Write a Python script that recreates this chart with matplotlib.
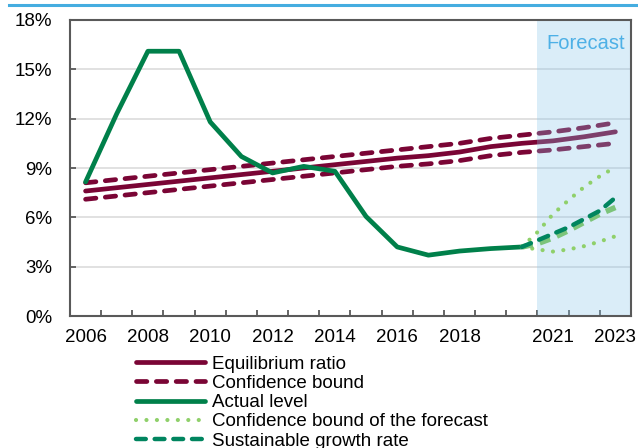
import numpy as np
import matplotlib.pyplot as plt
from matplotlib.lines import Line2D

plt.rcParams['font.family'] = ['Liberation Sans', 'DejaVu Sans']

# yearly categories 2006-2023
years = list(range(2006, 2024))
year_labels = ['2006', '', '2008', '', '2010', '', '2012', '', '2014', '', '2016', '',
               '2018', '', '', '2021', '', '2023']

eq_ratio = [7.6, 7.8, 8.0, 8.2, 8.4, 8.6, 8.8, 9.0, 9.2, 9.4, 9.6, 9.75, 9.97,
            10.3, 10.5, 10.65, 10.9, 11.2]
conf_upper = [8.1, 8.3, 8.5, 8.7, 8.9, 9.1, 9.3, 9.5, 9.7, 9.9, 10.1, 10.3, 10.5,
              10.8, 11.0, 11.2, 11.45, 11.75]
conf_lower = [7.1, 7.3, 7.5, 7.7, 7.9, 8.1, 8.3, 8.5, 8.7, 8.9, 9.1, 9.25, 9.45,
              9.75, 9.95, 10.1, 10.3, 10.5]

# actual level 2006-2020
actual_years = list(range(2006, 2021))
actual = [8.15, 12.3, 16.1, 16.1, 11.8, 9.7, 8.7, 9.1, 8.8, 6.05, 4.2, 3.7, 3.95,
          4.1, 4.2]

# forecast (half-year steps)
fc_period = [2020.0, 2020.5, 2021.0, 2021.5, 2022.0, 2022.5, 2023.0]
fc_central = [4.2, 4.4, 4.75, 5.2, 5.7, 6.2, 6.6]
fc_sustain = [4.2, 4.6, 5.0, 5.4, 5.9, 6.4, 7.2]
fc_upper = [4.2, 5.1, 6.2, 7.05, 7.85, 8.5, 9.05]
fc_lower = [4.2, 4.05, 3.92, 4.05, 4.25, 4.53, 4.85]

maroon = '#7a0535'
green = '#00804a'
dgreen = '#00855f'
lgreen = '#8fd06a'
axcol = '#595959'

def pos(y):
    return np.asarray(y, dtype=float) - years[0]

fig = plt.figure(figsize=(6.38, 4.48), dpi=100)
ax = fig.add_axes([0.1097, 0.2946, 0.8793, 0.6608])

ax.plot(pos(years), eq_ratio, color=maroon, lw=3.4, solid_capstyle='round',
        label='Equilibrium ratio', zorder=2)
ax.plot(pos(years), conf_upper, color=maroon, lw=3.4, dashes=(2.2, 2.0),
        dash_capstyle='round', label='Confidence bound', zorder=2)
ax.plot(pos(years), conf_lower, color=maroon, lw=3.4, dashes=(2.2, 2.0),
        dash_capstyle='round', zorder=2)

# forecast shading sits over the maroon lines
fc_start = years.index(2021)
ax.axvspan(fc_start - 0.5, len(years) - 0.5, color='#87c6eb', alpha=0.3, lw=0, zorder=2.5)
ax.text(16.05, 16.6, 'Forecast', color='#4db0e6', fontsize=14.5, ha='center', va='center')

ax.plot(pos(actual_years), actual, color=green, lw=3.4, solid_capstyle='round',
        label='Actual level', zorder=3)
ax.plot(pos(fc_period), fc_upper, color=lgreen, lw=3.0, dashes=(0.01, 2.5),
        dash_capstyle='round', label='Confidence bound of the forecast', zorder=3)
ax.plot(pos(fc_period), fc_lower, color=lgreen, lw=3.0, dashes=(0.01, 2.5),
        dash_capstyle='round', zorder=3)
ax.plot(pos(fc_period), fc_central, color='#7cc47a', lw=4.0, dashes=(2.0, 1.3), zorder=3)
ax.plot(pos(fc_period), fc_sustain, color=dgreen, lw=3.2, dashes=(2.2, 2.0),
        dash_capstyle='round', label='Sustainable growth rate', zorder=3.5)

ax.set_xlim(-0.5, len(years) - 0.5)
ax.set_ylim(0, 18)
ax.set_yticks(np.arange(0, 19, 3))
ax.set_yticklabels(['%d%%' % v for v in range(0, 19, 3)])
ax.set_xticks(np.arange(-0.5, len(years), 1))
ax.set_xticklabels([])
ax.set_xticks(pos(years), year_labels, minor=True)
ax.tick_params(axis='x', which='minor', length=0, pad=9, labelsize=13.5)
ax.tick_params(axis='x', which='major', direction='in', length=4.3, width=1.3, color=axcol)
ax.tick_params(axis='y', direction='in', length=4.3, width=1.3, color=axcol, pad=13,
               labelsize=13.5)
ax.grid(axis='y', color='#d9d9d9', lw=1.1, zorder=0)
ax.set_axisbelow(True)
for s in ax.spines.values():
    s.set_color(axcol)
    s.set_linewidth(1.5)

fig.legend(loc='upper left', bbox_to_anchor=(136 / 638, 1 - 355.5 / 448), frameon=False,
           fontsize=13.5, handlelength=3.7, handletextpad=0.35, labelspacing=0.115,
           borderpad=0, borderaxespad=0)

# blue rule at the top
fig.add_artist(Line2D([9 / 638, 1], [1 - 4.7 / 448] * 2, color='#45ade0', lw=2.2))

fig.savefig('out.png', dpi=100)
